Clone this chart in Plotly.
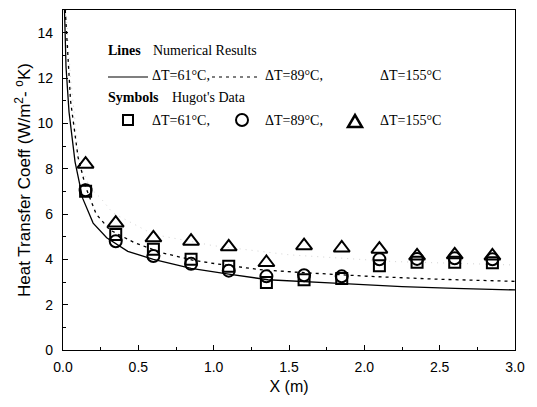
import plotly.graph_objects as go

# ---- data ----
x_pts = [0.15, 0.35, 0.6, 0.85, 1.1, 1.35, 1.6, 1.85, 2.1, 2.35, 2.6, 2.85]
sq_61 = [7.0, 5.1, 4.45, 4.0, 3.7, 2.98, 3.1, 3.15, 3.72, 3.87, 3.87, 3.85]
ci_89 = [7.05, 4.8, 4.15, 3.8, 3.5, 3.25, 3.3, 3.25, 4.0, 4.02, 4.05, 4.0]
tr_155 = [8.2, 5.6, 4.95, 4.8, 4.55, 3.86, 4.6, 4.5, 4.45, 4.15, 4.2, 4.15]

line_x_61 = [0.01, 0.02, 0.04, 0.06, 0.08, 0.13, 0.2, 0.29, 0.43, 0.6, 0.85, 1.1, 1.36, 1.8, 2.25, 2.6, 3.0]
line_y_61 = [15.0, 12.5, 10.5, 9.3, 8.3, 6.7, 5.6, 4.95, 4.35, 4.0, 3.6, 3.35, 3.1, 2.95, 2.8, 2.72, 2.65]
line_x_89 = [0.015, 0.03, 0.05, 0.08, 0.1, 0.15, 0.22, 0.31, 0.47, 0.65, 0.87, 1.02, 1.3, 1.58, 2.03, 2.5, 3.0]
line_y_89 = [15.0, 13.0, 11.0, 9.5, 8.5, 7.2, 6.0, 5.3, 4.75, 4.3, 3.95, 3.8, 3.55, 3.42, 3.25, 3.12, 3.03]
line_x_155 = [0.02, 0.05, 0.11, 0.18, 0.25, 0.33, 0.6, 1.0, 1.5, 2.2, 3.0]
line_y_155 = [15.0, 12.0, 8.2, 7.15, 6.7, 6.05, 5.1, 4.6, 4.2, 3.9, 3.75]

x_ticks = [0.0, 0.5, 1.0, 1.5, 2.0, 2.5, 3.0]
x_tick_labels = ["0.0", "0.5", "1.0", "1.5", "2.0", "2.5", "3.0"]
y_ticks = [0, 2, 4, 6, 8, 10, 12, 14]

# ---- layout geometry (page pixels; the page body has an 8px margin) ----
OFF = 8
L, R, T, B = 63, 515, 10, 350
FW, FH = 529, 399

def px(x):
    return (x - L) / (R - L)

def py(y):
    return (B - y) / (B - T)

fig = go.Figure()
fig.add_trace(go.Scatter(x=line_x_155, y=line_y_155, mode="lines",
                         line=dict(color="#d4d4d4", width=1, dash="1px,5px"), showlegend=False))
fig.add_trace(go.Scatter(x=line_x_89, y=line_y_89, mode="lines",
                         line=dict(color="black", width=1.3, dash="3px,4px"), showlegend=False))
fig.add_trace(go.Scatter(x=line_x_61, y=line_y_61, mode="lines",
                         line=dict(color="black", width=1.3), showlegend=False))
fig.add_trace(go.Scatter(x=x_pts, y=sq_61, mode="markers",
                         marker=dict(symbol="square-open", size=11, color="black", line=dict(width=2)),
                         showlegend=False))
fig.add_trace(go.Scatter(x=x_pts, y=ci_89, mode="markers",
                         marker=dict(symbol="circle-open", size=12, color="black", line=dict(width=2)),
                         showlegend=False))
fig.add_trace(go.Scatter(x=x_pts, y=tr_155, mode="markers",
                         marker=dict(symbol="triangle-up-open", size=14, color="black", line=dict(width=2)),
                         showlegend=False))

serif = "Liberation Serif, Times New Roman, serif"
ann = []
def text(x, y, s, size=14, bold=False):
    ann.append(dict(x=px(x), y=py(y), xref="paper", yref="paper", xanchor="left", yanchor="middle",
                    text=("<b>%s</b>" % s) if bold else s, showarrow=False,
                    font=dict(family=serif, size=size, color="black")))

text(106, 50, "Lines", bold=True)
text(151, 50, "Numerical Results")
text(150, 76, "ΔT=61°C,")
text(263, 76, "ΔT=89°C,")
text(378, 75, "ΔT=155°C")
text(106, 98, "Symbols", bold=True)
text(170, 98, "Hugot's Data")
text(150, 121, "ΔT=61°C,")
text(263, 121, "ΔT=89°C,")
text(378, 121, "ΔT=155°C")

shapes = [
    dict(type="line", xref="paper", yref="paper", x0=px(108), x1=px(148), y0=py(77), y1=py(77),
         line=dict(color="black", width=1.2)),
    dict(type="line", xref="paper", yref="paper", x0=px(212), x1=px(258), y0=py(77), y1=py(77),
         line=dict(color="black", width=1.2, dash="3px,4px")),
    dict(type="rect", xref="paper", yref="paper", x0=px(123), x1=px(133), y0=py(125), y1=py(115),
         line=dict(color="black", width=2)),
    dict(type="circle", xref="paper", yref="paper", x0=px(236), x1=px(248), y0=py(126), y1=py(114),
         line=dict(color="black", width=2)),
    dict(type="path", xref="paper", yref="paper",
         path="M %f %f L %f %f L %f %f Z" % (px(348), py(127), px(362), py(127), px(355), py(115)),
         line=dict(color="black", width=2.5)),
]

sans = "Liberation Sans, Arial, sans-serif"
axis_common = dict(showgrid=False, zeroline=False, showline=True, linecolor="black", linewidth=1.3,
                   mirror=True, ticks="inside", ticklen=5, tickcolor="black",
                   tickfont=dict(family=sans, size=14, color="black"))

fig.update_layout(
    width=FW, height=FH,
    margin=dict(l=L - OFF, r=FW - (R - OFF), t=T - OFF, b=FH - (B - OFF)),
    paper_bgcolor="white", plot_bgcolor="white",
    showlegend=False,
    annotations=ann, shapes=shapes,
    xaxis=dict(range=[0, 3.0], tickvals=x_ticks, ticktext=x_tick_labels,
               minor=dict(ticks="inside", ticklen=3, dtick=0.25, tickcolor="black"),
               ticklabelstandoff=4,
               title=dict(text="X (m)", font=dict(family=sans, size=16, color="black"), standoff=6),
               **axis_common),
    yaxis=dict(range=[0, 15], tickvals=y_ticks,
               minor=dict(ticks="inside", ticklen=3, dtick=1, tickcolor="black"),
               ticklabelstandoff=6,
               title=dict(text="Heat Transfer Coeff (W/m<sup>2</sup>- <sup>o</sup>K)",
                          font=dict(family=sans, size=17, color="black"), standoff=2),
               **axis_common),
)

fig.write_html("out.html")
